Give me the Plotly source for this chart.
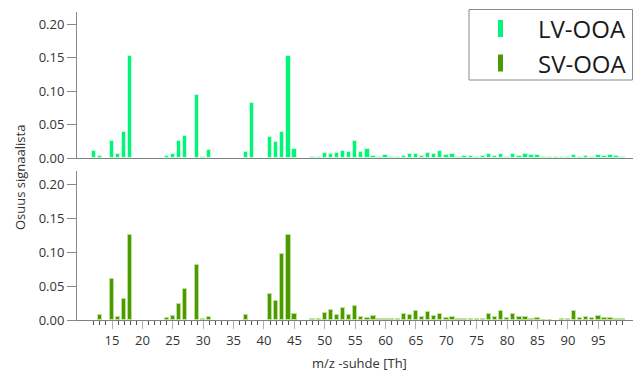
import plotly.graph_objects as go

# m/z values (Th) and fractional signal for each factor profile
mz = list(range(12, 100))

lv_ooa = [
    0.010, 0.003, 0.000, 0.026, 0.0065, 0.0385, 0.153,          # 12-18
    0.0, 0.0, 0.0, 0.0, 0.0,                                   # 19-23
    0.003, 0.0065, 0.026, 0.0325, 0.0, 0.094, 0.002, 0.012,    # 24-31
    0.0, 0.0, 0.0, 0.0, 0.0,                                   # 32-36
    0.0095, 0.0815, 0.0, 0.0,                                  # 37-40
    0.0315, 0.0235, 0.039, 0.153, 0.014,                       # 41-45
    0.0, 0.0, 0.0015, 0.0015,                                  # 46-49
    0.008, 0.0065, 0.007, 0.011, 0.0095, 0.026, 0.0085, 0.014, # 50-57
    0.0035, 0.002, 0.0045, 0.002, 0.002, 0.003,                # 58-63
    0.0055, 0.006, 0.0035, 0.008, 0.0065, 0.011, 0.005, 0.006, # 64-71
    0.002, 0.0035, 0.0025, 0.002, 0.003, 0.006, 0.0035, 0.0055,# 72-79
    0.002, 0.006, 0.0035, 0.006, 0.0045, 0.005, 0.002, 0.002,  # 80-87
    0.001, 0.002, 0.0015, 0.005, 0.002, 0.003, 0.002, 0.005,   # 88-95
    0.003, 0.004, 0.003, 0.002,                                # 96-99
]

sv_ooa = [
    0.0, 0.007, 0.0, 0.061, 0.005, 0.031, 0.126,               # 12-18
    0.0, 0.0, 0.0, 0.0, 0.0,                                   # 19-23
    0.0025, 0.0065, 0.024, 0.045, 0.0, 0.081, 0.001, 0.005,    # 24-31
    0.0, 0.0, 0.0, 0.0, 0.0,                                   # 32-36
    0.008, 0.0, 0.0, 0.0,                                      # 37-40
    0.039, 0.028, 0.097, 0.126, 0.009,                         # 41-45
    0.0, 0.0, 0.001, 0.002,                                    # 46-49
    0.010, 0.0145, 0.007, 0.017, 0.007, 0.021, 0.0045, 0.0035, # 50-57
    0.006, 0.002, 0.001, 0.001, 0.0015, 0.0095,                # 58-63
    0.007, 0.0135, 0.005, 0.0115, 0.006, 0.009, 0.0028, 0.0042,# 64-71
    0.001, 0.001, 0.002, 0.0015, 0.0015, 0.0095, 0.0042, 0.0128,# 72-79
    0.0025, 0.0085, 0.005, 0.005, 0.002, 0.0025, 0.0005, 0.0005,# 80-87
    0.0, 0.001, 0.001, 0.0128, 0.0028, 0.0048, 0.003, 0.0055,  # 88-95
    0.0025, 0.0032, 0.001, 0.002,                              # 96-99
]

major_ticks = list(range(15, 100, 5))
y_ticks = [0.0, 0.05, 0.10, 0.15, 0.20]

W, H = 633, 374
ML, MR, MT, MB = 77, 0, 12, 54
PW, PH = W - ML - MR, H - MT - MB


def px(x):
    return (x - ML) / PW


def py(y):
    return (H - MB - y) / PH


FONT = "Open Sans"
LV_COLOR = "#00f57a"
SV_COLOR = "#4a9a00"


def outline_widths(values):
    # no outline on empty channels so nothing is drawn along the baseline
    return [1 if v > 0 else 0 for v in values]


fig = go.Figure()
fig.add_trace(go.Bar(
    x=mz, y=lv_ooa, name="LV-OOA", width=0.72,
    marker=dict(color=LV_COLOR,
                line=dict(color="rgba(200,255,220,0.9)", width=outline_widths(lv_ooa))),
    xaxis="x", yaxis="y", showlegend=False,
))
fig.add_trace(go.Bar(
    x=mz, y=sv_ooa, name="SV-OOA", width=0.72,
    marker=dict(color=SV_COLOR,
                line=dict(color="rgba(190,225,150,0.9)", width=outline_widths(sv_ooa))),
    xaxis="x2", yaxis="y2", showlegend=False,
))

xr = [9.24, 100.7]
yaxis_common = dict(
    tickvals=y_ticks, tickformat=".2f", ticks="outside", ticklen=9,
    tickcolor="#8a8a8a", showline=True, linecolor="#8a8a8a", linewidth=1,
    showgrid=False, zeroline=False, tickfont=dict(family=FONT, size=13, color="#333"),
)

fig.update_layout(
    width=W, height=H,
    margin=dict(l=ML, r=MR, t=MT, b=MB),
    paper_bgcolor="white", plot_bgcolor="white",
    bargap=0,
    xaxis=dict(
        domain=[0, 1], range=xr, anchor="y", showline=True, linecolor="#808080",
        showticklabels=False, ticks="", showgrid=False, zeroline=False,
    ),
    yaxis=dict(domain=[py(158), 1], range=[0, 0.2183], anchor="x", **yaxis_common),
    xaxis2=dict(
        domain=[0, 1], range=xr, anchor="y2", showline=True, linecolor="#808080",
        tickvals=major_ticks, ticks="outside", ticklen=8, tickcolor="#b0b0b0",
        tickwidth=1, showgrid=False, zeroline=False,
        tickfont=dict(family=FONT, size=13, color="#333"),
        minor=dict(tickmode="array", tickvals=mz, ticks="outside", ticklen=4,
                   tickcolor="#555", tickwidth=1, showgrid=False),
    ),
    yaxis2=dict(domain=[0, py(171)], range=[0, 0.2196], anchor="x2", **yaxis_common),
)

# Axis titles
fig.add_annotation(
    text="Osuus signaalista", xref="paper", yref="paper",
    x=px(20), y=py(178), xanchor="center", yanchor="middle",
    textangle=-90, showarrow=False,
    font=dict(family=FONT, size=13, color="#333"),
)
fig.add_annotation(
    text="m/z -suhde [Th]", xref="paper", yref="paper",
    x=px(359), y=py(363), xanchor="center", yanchor="middle", showarrow=False,
    font=dict(family=FONT, size=13, color="#333"),
)

# Legend box with thin bar symbols
fig.add_shape(type="rect", xref="paper", yref="paper",
              x0=px(469), x1=px(632.5), y0=py(80), y1=py(9.5),
              line=dict(color="#8a8a8a", width=1), fillcolor="white", layer="above")
for name, color, yc in [("LV-OOA", LV_COLOR, 28.5), ("SV-OOA", SV_COLOR, 63)]:
    fig.add_shape(type="rect", xref="paper", yref="paper",
                  x0=px(498), x1=px(503), y0=py(yc + 8.5), y1=py(yc - 8.5),
                  line=dict(width=0), fillcolor=color, layer="above")
    fig.add_annotation(text=name, xref="paper", yref="paper",
                       x=px(536), y=py(yc), xanchor="left", yanchor="middle",
                       showarrow=False,
                       font=dict(family=FONT, size=24, color="#1a1a1a"))

fig.write_html("out.html")
